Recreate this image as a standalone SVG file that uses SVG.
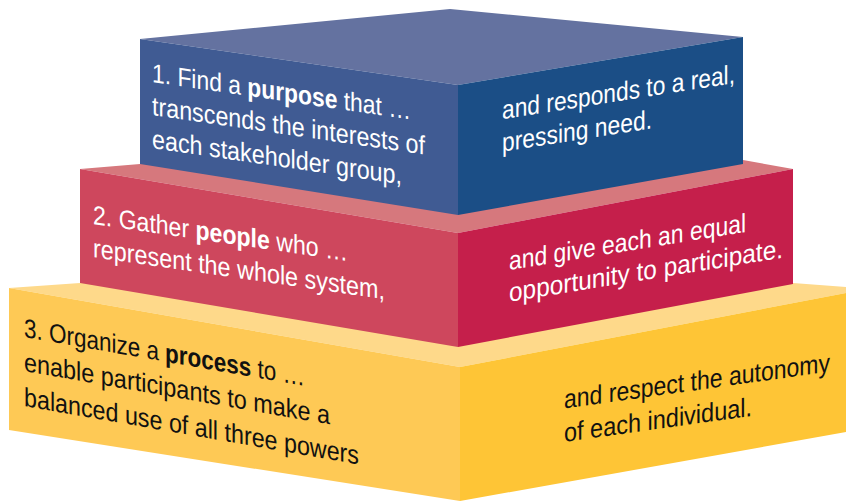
<svg xmlns="http://www.w3.org/2000/svg" width="846" height="501" viewBox="0 0 846 501">
<style>
text{font-family:"Liberation Sans","Arial",sans-serif;font-size:26.5px}
.w{fill:#ffffff}
.k{fill:#111111}
.b{font-weight:bold}
</style>
<rect width="846" height="501" fill="#ffffff"/>
<g id="tier3">
<polygon points="9,288 80,283 793,283 846,287 846,293 460,367" fill="#FED98A"/>
<polygon points="9,288 460,367 460,501 9,430" fill="#FEC955"/>
<polygon points="460,367 846,293 846,432 460,501" fill="#FEC536"/>
<g transform="translate(24,337) skewY(9.9)">
<text class="k" x="0" y="0" textLength="281" lengthAdjust="spacingAndGlyphs">3. Organize a <tspan class="b">process</tspan> to …</text>
<text class="k" x="0" y="34" textLength="306" lengthAdjust="spacingAndGlyphs">enable participants to make a</text>
<text class="k" x="0" y="69" textLength="335" lengthAdjust="spacingAndGlyphs">balanced use of all three powers</text>
</g>
<g transform="translate(564,408.5) skewY(-7.9)">
<text class="k" x="0" y="0" textLength="266" lengthAdjust="spacingAndGlyphs">and respect the autonomy</text>
<text class="k" x="0" y="33.4" textLength="188" lengthAdjust="spacingAndGlyphs">of each individual.</text>
</g>
</g>
<g id="tier2">
<polygon points="80,169 140,164 743,160 793,169 458,233" fill="#D6787D"/>
<polygon points="80,169 458,233 458,347 80,283" fill="#CE475D"/>
<polygon points="458,233 793,169 793,284 458,347" fill="#C51F4B"/>
<g transform="translate(93,224) skewY(8.25)">
<text class="w" x="0" y="0" textLength="255" lengthAdjust="spacingAndGlyphs">2. Gather <tspan class="b">people</tspan> who …</text>
<text class="w" x="0" y="33" textLength="292" lengthAdjust="spacingAndGlyphs">represent the whole system,</text>
</g>
<g transform="translate(509,270) skewY(-9.15)">
<text class="w" x="0" y="0" textLength="237" lengthAdjust="spacingAndGlyphs">and give each an equal</text>
<text class="w" x="0" y="31.7" textLength="274" lengthAdjust="spacingAndGlyphs">opportunity to participate.</text>
</g>
</g>
<g id="tier1">
<polygon points="140,39 450,9 743,37 458,85" fill="#6472A0"/>
<polygon points="140,39 458,85 458,215 140,164" fill="#405B93"/>
<polygon points="458,85 743,37 743,164 458,215" fill="#1B4E86"/>
<g transform="translate(152,82) skewY(8.25)">
<text class="w" x="0" y="0" textLength="259" lengthAdjust="spacingAndGlyphs">1. Find a <tspan class="b">purpose</tspan> that …</text>
<text class="w" x="0" y="33" textLength="273" lengthAdjust="spacingAndGlyphs">transcends the interests of</text>
<text class="w" x="0" y="66" textLength="250" lengthAdjust="spacingAndGlyphs">each stakeholder group,</text>
</g>
<g transform="translate(502,119.3) skewY(-8.87)">
<text class="w" x="0" y="0" textLength="233" lengthAdjust="spacingAndGlyphs">and responds to a real,</text>
<text class="w" x="0" y="32.4" textLength="150" lengthAdjust="spacingAndGlyphs">pressing need.</text>
</g>
</g>
</svg>
